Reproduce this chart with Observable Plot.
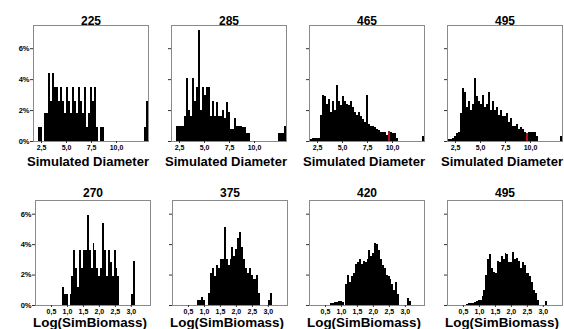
<!DOCTYPE html>
<html><head><meta charset="utf-8">
<script src="https://cdn.jsdelivr.net/npm/d3@7"></script>
<script src="https://cdn.jsdelivr.net/npm/@observablehq/plot@0.6"></script>
<style>
body{margin:0;background:#fff;}
#chart{position:relative;width:564px;height:329px;overflow:hidden;background:#fff;}
</style></head><body><div id="chart"></div>
<script>
// ---- Top row: Simulated Diameter histograms (bins of 0.2 starting at 1.8), values in %
const diamTitles = ["225", "285", "465", "495"];
const diamLabel = "Simulated Diameter";
const diamBinStart = 1.8;
const diamBinWidth = 0.2;
const diamTicks = [2.5, 5, 7.5, 10];
const diam225 = [0,0,0.9,0.9,0,1.8,1.8,4.4,2.6,4.4,3.5,3.5,2.6,3.5,2.6,1.8,3.5,2.6,1.8,3.5,2.6,1.8,3.5,2.6,1.8,3.5,0.9,1.8,3.5,2.6,3.5,0.9,0,0.9,0.9,
  0,0,0,0,0,0,0,0,0,0,0,0,0,0,0,0,0,0,0,0, 0.9,2.6];
const diam285 = [0,0,1.0,1.0,1.0,1.0,1.6,4.1,2.0,1.6,4.1,2.6,3.5,7.2,2.0,3.5,3.0,3.5,3.5,1.6,2.6,1.6,2.5,1.6,1.6,2.0,1.5,2.5,1.9,0.8,0.8,1.5,1.0,1.0,1.0,0.9,0.9,0.5,0.5,
  0,0,0,0,0,0,0,0,0,0,0,0,0,0, 0.5,0.5,0.5,1.0];
const diam465 = [0.1,0.2,0.2,0.2,0.2,1.7,3.0,2.9,2.4,2.7,1.9,2.6,2.0,3.6,2.6,2.3,2.9,2.6,2.4,2.3,2.6,2.2,1.9,1.7,1.9,1.6,1.4,1.2,3.0,1.1,1.0,1.0,0.9,0.8,0.7,0.6,0.6,0.6,0.4,0.65,0.6,0.5,0.5,0.2,
  0,0,0,0,0,0,0,0,0,0,0,0, 0.3];
const diam495 = [0.1,0.1,0.2,0.3,0.5,0.6,1.8,3.4,3.2,2.2,2.6,2.0,2.4,4.1,2.9,2.6,2.4,3.0,2.2,2.4,3.2,2.0,2.6,2.0,2.2,1.7,2.0,1.6,1.6,1.8,1.25,1.5,1.0,1.0,1.1,0.8,0.9,0.8,0.6,0.5,0.6,0.6,0.55,0.55,0.3,
  0,0,0,0,0,0,0,0,0,0,0, 0.3];
const diamRedBin = [null, null, 39, 39];

// ---- Bottom row: Log(SimBiomass) histograms (bins of 0.06 starting at 0), values in %
const bioTitles = ["270", "375", "420", "495"];
const bioLabel = "Log(SimBiomass)";
const bioBinStart = 0;
const bioBinWidth = 0.06;
const bioTicks = [0.5, 1, 1.5, 2, 2.5, 3];
const bio270 = [0,0,0,0,0,0,0,0,0,0,0,0,0,0,
  1.2,0.7,0.7,0,0.7,1.9,3.6,2.4,1.2,3.6,2.4,3.6,3.6,5.9,3.6,2.4,4.1,3.6,2.4,1.9,2.4,5.4,3.6,1.9,3.6,2.8,1.9,3.6,2.4,1.9,
  0,0,0,0,0,0, 0.7,2.9, 0,0,0,0,0,0,0,0];
const bio375 = [0,0,0,0,0,0,0,0,0,0,0,0,0,
  0.3,0.3,0.5,0.3,0,0,0.8,2.1,2.4,1.9,2.6,2.4,3.0,3.0,5.1,3.0,2.6,3.0,3.8,3.2,3.7,4.4,4.8,3.8,3.0,2.4,2.1,2.4,2.0,1.7,1.7,2.0,0.8,
  0,0,0,0, 0.3,0.8, 0,0,0,0,0,0,0,0];
const bio420 = [0,0,0,0,0,0,0,0,0,0,0,
  0.1,0.1,0.2,0.2,0.25,0.25,0.2,0,1.35,2.0,1.5,1.9,2.1,2.7,2.8,3.0,2.7,2.9,2.8,3.0,3.6,3.2,3.4,4.1,4.0,3.6,3.0,2.6,2.4,2.0,1.9,1.7,1.35,1.0,1.5,0.7,
  0,0,0,0, 0.45,0.25, 0,0,0,0,0,0,0];
const bio495 = [0,0,0,0,0,0,0,0,0,0,
  0.05,0.1,0.1,0.15,0.2,0.25,0.35,0.35,0.6,1.0,2.0,3.0,3.35,2.4,2.2,2.1,2.9,2.8,3.2,3.0,3.4,3.35,2.8,2.8,3.5,3.0,3.1,2.9,2.4,2.8,2.6,2.1,2.1,1.9,1.5,1.0,0.8,0.35,
  0,0,0, 0.25, 0,0,0,0,0,0,0,0];

const pctTicks = [0, 2, 4, 6];

const diamSeries = [diam225, diam285, diam465, diam495];
const bioSeries = [bio270, bio375, bio420, bio495];

const FONT = "'Liberation Sans', Arial, Helvetica, sans-serif";
const container = document.getElementById("chart");
const comma = d => d.toFixed(1).replace(".", ",");

function panel({values, start, width, redBin, xDomain, yDomain, ticks, title, label, showY,
                left, top, height, marginTop, marginBottom, titleDy, xTickPad, labelDy, labelLen, labelSize}) {
  const bins = values.map((v, i) => ({x1: start + i * width, x2: start + (i + 1) * width, y: v, red: i === redBin}))
    .filter(d => d.y > 0);
  const svg = Plot.plot({
    width: 138, height, marginLeft: 23, marginRight: 0, marginTop, marginBottom,
    style: {fontFamily: FONT, color: "#000", background: "transparent", overflow: "visible"},
    x: {domain: xDomain, axis: null, label: null},
    y: {domain: yDomain, axis: null, label: null},
    marks: [
      Plot.rectY(bins.filter(d => !d.red), {x1: "x1", x2: "x2", y: "y", fill: "#000", shapeRendering: "crispEdges"}),
      Plot.rectY(bins.filter(d => d.red), {x1: "x1", x2: "x2", y: "y", fill: "#b3121d", shapeRendering: "crispEdges"}),
      Plot.frame({stroke: "#8a8a8a", strokeWidth: 1}),
      Plot.axisY({ticks: pctTicks, tickSize: 3, tickPadding: 1, stroke: "#333",
        tickFormat: d => showY ? d + "%" : "", fontSize: 7.5, fontWeight: "bold", label: null}),
      Plot.axisX({ticks, tickSize: 2, tickPadding: xTickPad, stroke: "#333",
        tickFormat: comma, fontSize: 7, fontWeight: "bold", label: null}),
      Plot.text([title], {frameAnchor: "top", dy: titleDy, lineAnchor: "middle",
        fontSize: 12, fontWeight: "bold", className: "ptitle"}),
      Plot.text([label], {frameAnchor: "bottom", dx: -3, dy: labelDy, lineAnchor: "middle",
        fontSize: labelSize, fontWeight: "bold", className: "plabel"})
    ]
  });
  svg.querySelectorAll(".plabel text").forEach(t => {
    t.setAttribute("textLength", labelLen);
    t.setAttribute("lengthAdjust", "spacingAndGlyphs");
  });
  svg.style.position = "absolute";
  svg.style.left = left + "px";
  svg.style.top = top + "px";
  container.appendChild(svg);
}

const topFrames = [33, 171, 309, 447];
const botFrames = [35, 172, 309, 447];

diamSeries.forEach((values, k) => panel({
  values, start: diamBinStart, width: diamBinWidth, redBin: diamRedBin[k],
  xDomain: [1.7, 13.2], yDomain: [0, 7.5], ticks: diamTicks,
  title: diamTitles[k], label: diamLabel, showY: k === 0,
  left: topFrames[k] - 23, top: 0, height: 165, marginTop: 25, marginBottom: 24,
  titleDy: -4.5, xTickPad: 2, labelDy: 20.5, labelLen: 122, labelSize: 12.5
}));

bioSeries.forEach((values, k) => panel({
  values, start: bioBinStart, width: bioBinWidth, redBin: null,
  xDomain: [0, 3.6], yDomain: [0, 6.9], ticks: bioTicks,
  title: bioTitles[k], label: bioLabel, showY: k === 0,
  left: botFrames[k] - 23, top: 170, height: 159, marginTop: 30, marginBottom: 24,
  titleDy: -7.5, xTickPad: 1.5, labelDy: 17.5, labelLen: 114, labelSize: 12.5
}));
</script></body></html>
